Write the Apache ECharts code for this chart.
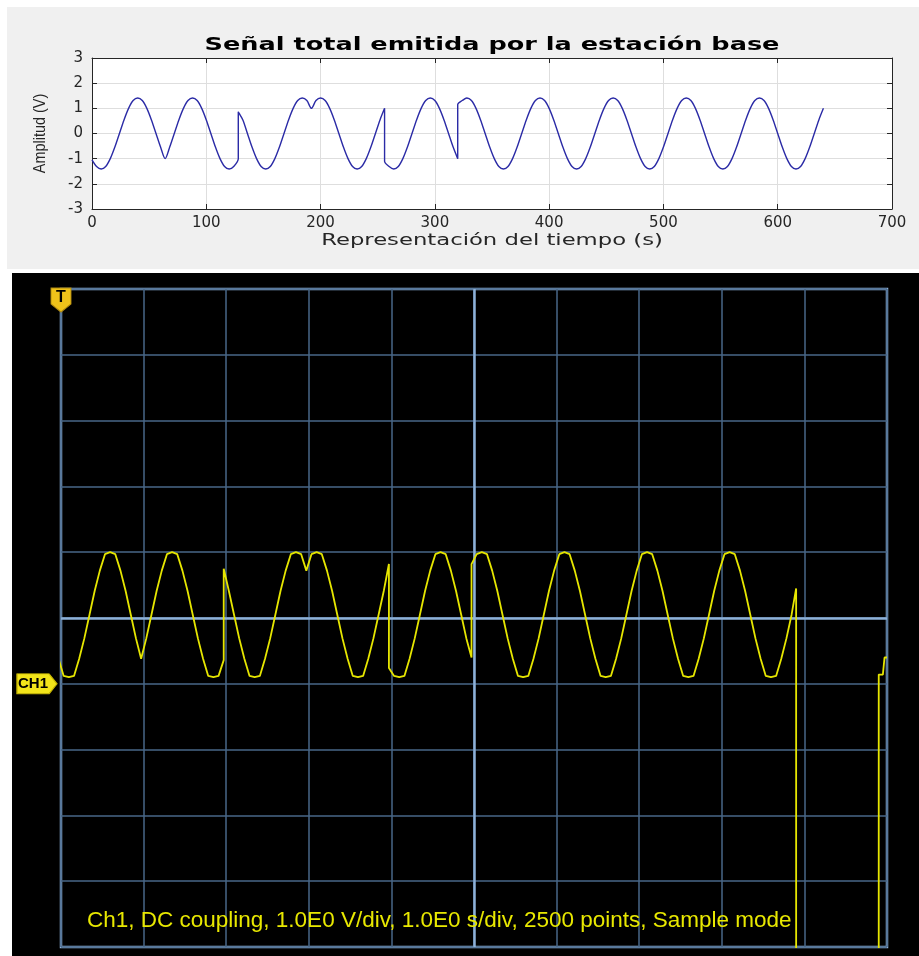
<!DOCTYPE html>
<html>
<head>
<meta charset="utf-8">
<script src="https://cdn.jsdelivr.net/npm/echarts@6/dist/echarts.min.js"></script>
<style>
  html, body { margin: 0; padding: 0; background: #ffffff; }
  body { width: 919px; height: 956px; position: relative; overflow: hidden; }
  #top { position: absolute; left: 7px; top: 7px; width: 912px; height: 262px; background: #f0f0f0; }
  #scope { position: absolute; left: 12px; top: 273px; width: 907px; height: 683px; background: #000000; }
</style>
</head>
<body>
<div id="top"></div>
<div id="scope"></div>
<script>
// ---------- Top (MATLAB) panel data ----------
const topTitle = 'Señal total emitida por la estación base';
const topXName = 'Representación del tiempo (s)';
const topYName = 'Amplitud (V)';
const topXTicks = [0, 100, 200, 300, 400, 500, 600, 700];
const topYTicks = [-3, -2, -1, 0, 1, 2, 3];
// symbol segments (start time, s) and samples every 4 s inside each segment
const matlabSegStart = [0, 64, 128, 192, 256, 320, 384, 448, 512, 576];
const matlabStep = 4;
const seg0 = [-1.05, -1.31, -1.41, -1.31, -1, -0.54, 0, 0.54, 1, 1.31, 1.41, 1.31, 1, 0.54, 0, -0.54, -1];
const seg1 = [-1, -0.54, 0, 0.54, 1, 1.31, 1.41, 1.31, 1, 0.54, 0, -0.54, -1, -1.31, -1.41, -1.31, -1];
const seg2 = [0.85, 0.54, 0, -0.54, -1, -1.31, -1.41, -1.31, -1, -0.54, 0, 0.54, 1, 1.31, 1.41, 1.31, 1];
const seg3 = [1, 1.31, 1.41, 1.31, 1, 0.54, 0, -0.54, -1, -1.31, -1.41, -1.31, -1, -0.54, 0, 0.54, 1];
const seg4 = [-1.1, -1.31, -1.41, -1.31, -1, -0.54, 0, 0.54, 1, 1.31, 1.41, 1.31, 1, 0.54, 0, -0.54, -1];
const seg5 = [1.15, 1.31, 1.41, 1.31, 1, 0.54, 0, -0.54, -1, -1.31, -1.41, -1.31, -1, -0.54, 0, 0.54, 1];
const seg6 = [1, 1.31, 1.41, 1.31, 1, 0.54, 0, -0.54, -1, -1.31, -1.41, -1.31, -1, -0.54, 0, 0.54, 1];
const seg7 = [1, 1.31, 1.41, 1.31, 1, 0.54, 0, -0.54, -1, -1.31, -1.41, -1.31, -1, -0.54, 0, 0.54, 1];
const seg8 = [1, 1.31, 1.41, 1.31, 1, 0.54, 0, -0.54, -1, -1.31, -1.41, -1.31, -1, -0.54, 0, 0.54, 1];
const seg9 = [1, 1.31, 1.41, 1.31, 1, 0.54, 0, -0.54, -1, -1.31, -1.41, -1.31, -1, -0.54, 0, 0.54, 1];

// ---------- Oscilloscope panel data ----------
const scopeInfo = 'Ch1, DC coupling, 1.0E0 V/div, 1.0E0 s/div, 2500 points, Sample mode';
const scopeSegStart = [-0.03, 0.97, 1.97, 2.97, 3.97, 4.97, 5.97, 6.97, 7.97];
const scopeStep = 0.0625;
const sc0 = [0.38, 0.12, 0.1, 0.12, 0.38, 0.69, 1.05, 1.41, 1.72, 1.97, 2.0, 1.97, 1.72, 1.41, 1.05, 0.69, 0.38];
const sc1 = [0.38, 0.69, 1.05, 1.41, 1.72, 1.97, 2.0, 1.97, 1.72, 1.41, 1.05, 0.69, 0.38, 0.12, 0.1, 0.12, 0.36];
const sc2 = [1.75, 1.41, 1.05, 0.69, 0.38, 0.12, 0.1, 0.12, 0.38, 0.69, 1.05, 1.41, 1.72, 1.97, 2.0, 1.97, 1.72];
const sc3 = [1.72, 1.97, 2.0, 1.97, 1.72, 1.41, 1.05, 0.69, 0.38, 0.12, 0.1, 0.12, 0.38, 0.69, 1.05, 1.41, 1.82];
const sc4 = [0.24, 0.12, 0.1, 0.12, 0.38, 0.69, 1.05, 1.41, 1.72, 1.97, 2.0, 1.97, 1.72, 1.41, 1.05, 0.69, 0.4];
const sc5 = [1.82, 1.97, 2.0, 1.97, 1.72, 1.41, 1.05, 0.69, 0.38, 0.12, 0.1, 0.12, 0.38, 0.69, 1.05, 1.41, 1.72];
const sc6 = [1.72, 1.97, 2.0, 1.97, 1.72, 1.41, 1.05, 0.69, 0.38, 0.12, 0.1, 0.12, 0.38, 0.69, 1.05, 1.41, 1.72];
const sc7 = [1.72, 1.97, 2.0, 1.97, 1.72, 1.41, 1.05, 0.69, 0.38, 0.12, 0.1, 0.12, 0.38, 0.69, 1.05, 1.41, 1.72];
const sc8 = [1.72, 1.97, 2.0, 1.97, 1.72, 1.41, 1.05, 0.69, 0.38, 0.12, 0.1, 0.12, 0.38, 0.69, 1.05];
const scopeTailT = [8.9, 8.9, 9.9, 9.9, 9.95, 9.97, 10.0];
const scopeTailV = [1.45, -6, -6, 0.14, 0.14, 0.4, 0.4];

// ---------- build series data ----------
const matlabSegs = [seg0, seg1, seg2, seg3, seg4, seg5, seg6, seg7, seg8, seg9];
const topData = [];
matlabSegs.forEach((s, i) => s.forEach((v, k) => topData.push([matlabSegStart[i] + k * matlabStep, v])));

const scopeSegs = [sc0, sc1, sc2, sc3, sc4, sc5, sc6, sc7, sc8];
const scopeData = [];
scopeSegs.forEach((s, i) => s.forEach((v, k) => scopeData.push([+(scopeSegStart[i] + k * scopeStep).toFixed(4), v])));
scopeTailT.forEach((t, i) => scopeData.push([t, scopeTailV[i]]));

// ---------- Top chart ----------
const axisCol = '#262626';
const topChart = echarts.init(document.getElementById('top'), null, { renderer: 'canvas' });
const gLeft = 85, gTop = 51, gW = 800, gH = 151;
topChart.setOption({
  animation: false,
  graphic: [{
    type: 'text', x: gLeft + gW / 2, y: 38, scaleX: 1.42,
    style: { text: topTitle, fill: '#000', font: 'bold 18px "DejaVu Sans"', align: 'center', verticalAlign: 'middle' }
  }, {
    type: 'text', x: gLeft + gW / 2, y: 234, scaleX: 1.42,
    style: { text: topXName, fill: axisCol, font: '16px "DejaVu Sans"', align: 'center', verticalAlign: 'middle' }
  }, {
    type: 'text', x: 33, y: gTop + gH / 2, rotation: Math.PI / 2, scaleX: 0.85,
    style: { text: topYName, fill: axisCol, font: '17px "Liberation Sans"', align: 'center', verticalAlign: 'middle' }
  }],
  grid: { left: gLeft, top: gTop, width: gW, height: gH, show: true, backgroundColor: '#ffffff', borderWidth: 0 },
  xAxis: [{
    type: 'value', min: topXTicks[0], max: topXTicks[topXTicks.length - 1], interval: 100, position: 'bottom',
    axisLine: { show: true, onZero: false, lineStyle: { color: axisCol, width: 1 } },
    axisTick: { show: true, inside: true, length: 5, lineStyle: { color: axisCol } },
    axisLabel: { color: axisCol, fontFamily: 'DejaVu Sans', fontSize: 15, margin: 7 },
    splitLine: { show: true, lineStyle: { color: '#dedede', width: 1 } }
  }, {
    type: 'value', min: 0, max: 700, interval: 100, position: 'top',
    axisLine: { show: true, onZero: false, lineStyle: { color: axisCol, width: 1 } },
    axisTick: { show: true, inside: true, length: 5, lineStyle: { color: axisCol } },
    axisLabel: { show: false }, splitLine: { show: false }
  }],
  yAxis: [{
    type: 'value', min: topYTicks[0], max: topYTicks[topYTicks.length - 1], interval: 1, position: 'left',
    axisLine: { show: true, onZero: false, lineStyle: { color: axisCol, width: 1 } },
    axisTick: { show: true, inside: true, length: 5, lineStyle: { color: axisCol } },
    axisLabel: { color: axisCol, fontFamily: 'DejaVu Sans', fontSize: 15, margin: 9 },
    splitLine: { show: true, lineStyle: { color: '#dedede', width: 1 } }
  }, {
    type: 'value', min: -3, max: 3, interval: 1, position: 'right',
    axisLine: { show: true, onZero: false, lineStyle: { color: axisCol, width: 1 } },
    axisTick: { show: true, inside: true, length: 5, lineStyle: { color: axisCol } },
    axisLabel: { show: false }, splitLine: { show: false }
  }],
  series: [{
    type: 'line', xAxisIndex: 0, yAxisIndex: 0, data: topData, showSymbol: false, symbol: 'none',
    smooth: 0.3,
    lineStyle: { color: '#2b2ba6', width: 1.4 }, clip: true
  }]
});

// ---------- Scope chart ----------
const scopeChart = echarts.init(document.getElementById('scope'), null, { renderer: 'canvas' });
const bright = '#8db0d8';
const dim = '#486789';
scopeChart.setOption({
  animation: false,
  title: {
    text: scopeInfo, left: 70, top: 631,
    textStyle: { color: '#e8e800', fontFamily: '"Liberation Sans"', fontWeight: 'normal', fontSize: 22.5 }
  },
  grid: { left: 49, top: 16, width: 826, height: 658, show: true, borderColor: bright, borderWidth: 2.5, backgroundColor: 'transparent' },
  xAxis: {
    type: 'value', min: 0, max: 10, interval: 1,
    axisLine: { show: false }, axisTick: { show: false }, axisLabel: { show: false },
    splitLine: { show: true, lineStyle: { color: dim, width: 1.5 } }
  },
  yAxis: {
    type: 'value', min: -4, max: 6, interval: 1,
    axisLine: { show: false }, axisTick: { show: false }, axisLabel: { show: false },
    splitLine: { show: true, lineStyle: { color: dim, width: 1.5 } }
  },
  series: [{
    type: 'line', data: scopeData, showSymbol: false, symbol: 'none', clip: true,
    lineStyle: { color: '#e6e600', width: 1.8 },
    z: 5,
    markLine: {
      silent: true, symbol: 'none', z: 3,
      label: { show: false },
      lineStyle: { color: bright, width: 2.5, type: 'solid' },
      data: [{ xAxis: 5 }, { yAxis: 1 }]
    },
    markPoint: {
      silent: true,
      data: [{
        coord: [0, 6],
        symbol: 'path://M0,0 L20,0 L20,16 L10,24 L0,16 Z', symbolSize: [20, 24], symbolOffset: [0, 11],
        itemStyle: { color: '#efc21a', borderColor: '#b08a10', borderWidth: 1 },
        label: { show: true, formatter: 'T', color: '#000', fontWeight: 'bold', fontSize: 16, fontFamily: '"Liberation Sans"', offset: [0, -2] }
      }, {
        coord: [0, 0],
        symbol: 'path://M0,0 L32,0 L40,10 L32,20 L0,20 Z', symbolSize: [40, 20], symbolOffset: [-24, 0],
        itemStyle: { color: '#f2e41a', borderColor: '#c9b800', borderWidth: 1 },
        label: { show: true, formatter: 'CH1', color: '#000', fontWeight: 'bold', fontSize: 15, fontFamily: '"Liberation Sans"', offset: [-4, 0] }
      }]
    }
  }]
});
</script>
</body>
</html>
